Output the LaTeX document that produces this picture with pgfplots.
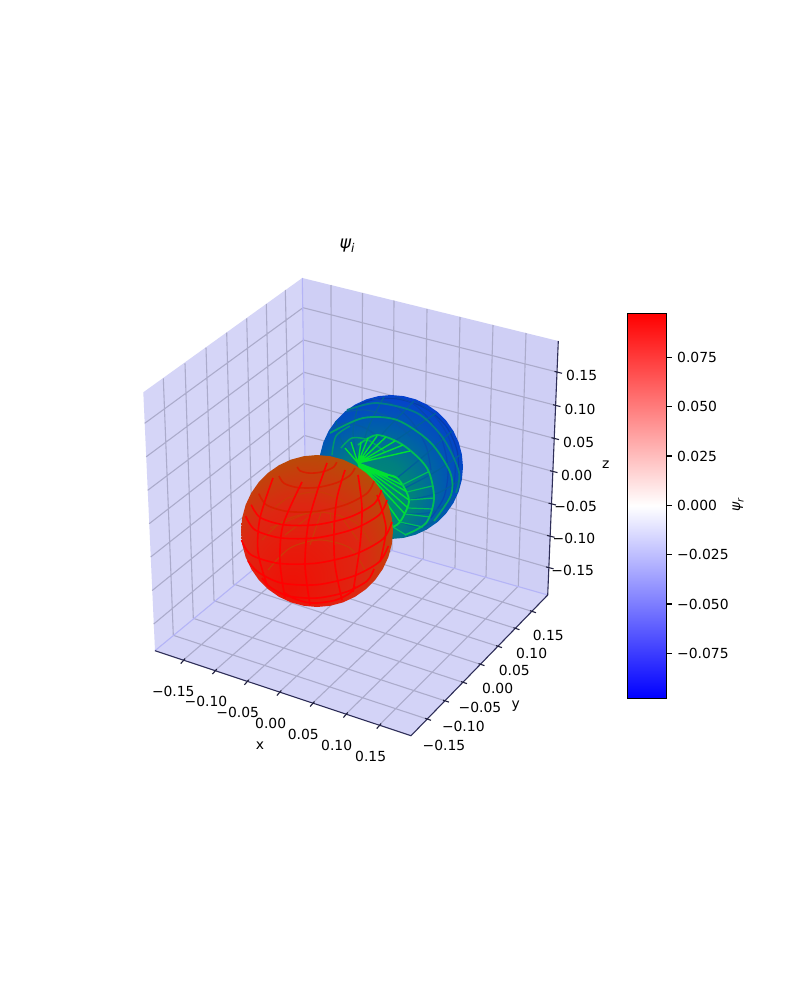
\documentclass[border=0pt]{standalone}
\usepackage{fontspec}
\setmainfont{DejaVu Sans}
\usepackage{pgfplots}
\pgfplotsset{compat=1.18}
\definecolor{paneL}{HTML}{D5D5F7}
\definecolor{paneB}{HTML}{CFCFF5}
\definecolor{paneF}{HTML}{D3D3F7}
\definecolor{gridc}{HTML}{ABABCB}
\definecolor{edgeb}{HTML}{B4B4F6}
\definecolor{spine}{HTML}{2E2E58}
\definecolor{wr}{HTML}{FF0000}
\definecolor{wrd}{HTML}{D82000}
\definecolor{wrb}{HTML}{CC3A08}
\pgfdeclareradialshading{ballred}{\pgfpoint{-8.9bp}{-19.4bp}}{rgb(0bp)=(0.94,0.06,0.02); rgb(20bp)=(0.87,0.15,0.07); rgb(30bp)=(0.75,0.27,0.04); rgb(40bp)=(0.60,0.40,0); rgb(50bp)=(0.52,0.47,0)}
\pgfdeclareradialshading{ballblue}{\pgfpoint{-9bp}{-15bp}}{rgb(0bp)=(0,0.60,0.38); rgb(14bp)=(0,0.50,0.50); rgb(23bp)=(0,0.36,0.68); rgb(32bp)=(0.02,0.24,0.82); rgb(50bp)=(0.02,0.20,0.85)}
\begin{document}
\begin{tikzpicture}[every node/.style={font=\fontsize{13.89}{16}\selectfont,inner sep=0pt,text=black}]
\begin{axis}[axis lines=none,scale only axis,width=800pt,height=1000pt,xmin=0,xmax=800,ymin=0,ymax=1000,y dir=reverse,clip=false,unbounded coords=jump,no markers]
% page
\addplot[draw=none,fill=white] coordinates {(0,0)(800,0)(800,1000)(0,1000)} --cycle;
% panes
\addplot[draw=none,fill=paneL] coordinates {(143.3,392.3)(302.3,278)(306,526)(155,650.7)} --cycle;
\addplot[draw=none,fill=paneB] coordinates {(302.3,278)(558.3,341)(547.7,595)(306,526)} --cycle;
\addplot[draw=none,fill=paneF] coordinates {(155,650.7)(306,526)(547.7,595)(411,735.7)} --cycle;
% grid
\addplot[gridc,line width=1.1pt] coordinates {
(183.3,660.1)(331.5,533)(0,nan)(215,670.6)(361.5,542)(0,nan)(247,681.3)(392,550)(0,nan)(279.5,692)(423.3,558.3)(0,nan)(312.7,703)(455,567.3)(0,nan)(346,714)(486,576.7)(0,nan)(379.3,725.1)(518.3,586)(0,nan)
(173.3,635.3)(427,719)(0,nan)(193.3,618.3)(445,700.8)(0,nan)(214,600.7)(463,682.3)(0,nan)(233.3,584)(480.5,664.3)(0,nan)(253,567.5)(498,646.3)(0,nan)(272,551)(515.5,628.4)(0,nan)(291,535)(532,611.4)(0,nan)
(163.3,378.3)(173.3,635.3)(0,nan)(185,363.3)(193.3,618.3)(0,nan)(206,347.7)(214,600.7)(0,nan)(226.7,332.7)(233.3,584)(0,nan)(246.7,318.3)(253,567.5)(0,nan)(266.3,304)(272,551)(0,nan)(285.3,290)(291,535)(0,nan)
(303,307.7)(144.7,423.3)(0,nan)(303.5,340)(146.2,456.8)(0,nan)(304,372.3)(147.7,490.3)(0,nan)(304,403.5)(149.2,523.7)(0,nan)(304.5,435.5)(150.7,557)(0,nan)(305,467)(152.2,590.5)(0,nan)(305.5,497.5)(153.7,624)(0,nan)
(331,285)(331.5,533)(0,nan)(362.5,293)(361.5,542)(0,nan)(394,300.5)(392,550)(0,nan)(427,309)(423.3,558.3)(0,nan)(460,317)(455,567.3)(0,nan)(493,325)(486,576.7)(0,nan)(526,333)(518.3,586)(0,nan)
(303,307.7)(557,372)(0,nan)(303.5,340)(555.5,405.3)(0,nan)(304,372.3)(554,438.3)(0,nan)(304,403.5)(552.5,471.3)(0,nan)(304.5,435.5)(551,503.7)(0,nan)(305,467)(549.5,536)(0,nan)(305.5,497.5)(548.5,567.5)
};
% inner pane edges
\addplot[edgeb,line width=1.1pt] coordinates {(302.3,278)(306,526)(0,nan)(306,526)(155,650.7)(0,nan)(306,526)(547.7,595)};
% front spines
\addplot[spine,line width=1.1pt] coordinates {(155,650.7)(411,735.7)(547.7,595)(558.3,341)};
% ticks
\addplot[spine!70!black,line width=1.1pt] coordinates {
(185.1,658.6)(180.7,663.6)(0,nan)(216.8,669.1)(212.4,674.1)(0,nan)(248.8,679.8)(244.4,684.8)(0,nan)(281.3,690.5)(276.9,695.5)(0,nan)(314.5,701.5)(310.1,706.5)(0,nan)(347.8,712.5)(343.4,717.5)(0,nan)(381.1,723.6)(376.7,728.6)(0,nan)
(425,718.3)(431,720.3)(0,nan)(443,700.1)(449,702.1)(0,nan)(461,681.6)(467,683.6)(0,nan)(478.5,663.6)(484.5,665.6)(0,nan)(496,645.6)(502,647.6)(0,nan)(513.5,627.7)(519.5,629.7)(0,nan)(530,610.7)(536,612.7)(0,nan)
(554.5,371.4)(562,373.3)(0,nan)(553,404.7)(560.5,406.6)(0,nan)(551.5,437.7)(559,439.6)(0,nan)(550,470.7)(557.5,472.6)(0,nan)(548.5,503.1)(556,505)(0,nan)(547,535.4)(554.5,537.3)(0,nan)(546,566.9)(553.5,568.8)
};
% blue sphere
\addplot[draw=none,shade,shading=ballblue] coordinates {(463,467)(461.9,454.5)(458.7,442.4)(453.4,431)(446.2,420.7)(437.3,411.8)(427,404.6)(415.6,399.3)(403.5,396.1)(391,395)(378.5,396.1)(366.4,399.3)(355,404.6)(344.7,411.8)(335.8,420.7)(328.6,431)(323.3,442.4)(320.1,454.5)(319,467)(320.1,479.5)(323.3,491.6)(328.6,503)(335.8,513.3)(344.7,522.2)(355,529.4)(366.4,534.7)(378.5,537.9)(391,539)(403.5,537.9)(415.6,534.7)(427,529.4)(437.3,522.2)(446.2,513.3)(453.4,503)(458.7,491.6)(461.9,479.5)} --cycle;
% blue sphere: grid wires near the rim
\addplot[smooth,color={rgb,255:red,6;green,60;blue,170},line width=1.2pt] coordinates {(352,408)(372,400)(398,399)(425,408)(446,426)(457,450)(459,475)};
\addplot[smooth,color={rgb,255:red,6;green,70;blue,175},line width=1.2pt] coordinates {(395,397)(412,403)(428,418)(442,440)(448,470)(444,497)(431,518)};
\addplot[smooth,color={rgb,255:red,6;green,70;blue,175},line width=1.2pt] coordinates {(415,401)(433,414)(448,436)(455,462)(453,490)(442,509)};
\addplot[smooth,color={rgb,255:red,6;green,80;blue,170},line width=1.2pt] coordinates {(372,399)(392,404)(412,422)(426,446)(431,470)};
\addplot[smooth,color={rgb,255:red,6;green,90;blue,165},line width=1.2pt] coordinates {(345,412)(366,410)(390,418)(410,436)};
\addplot[smooth,color={rgb,255:red,6;green,90;blue,160},line width=1.2pt] coordinates {(330,430)(345,423)(365,428)(382,440)};
\addplot[smooth,color={rgb,255:red,0;green,100;blue,150},line width=1.2pt] coordinates {(358,463)(341,440)(336,421)};
\addplot[smooth,color={rgb,255:red,0;green,100;blue,150},line width=1.2pt] coordinates {(358,463)(353,432)(358,406)};
\addplot[smooth,color={rgb,255:red,0;green,100;blue,150},line width=1.2pt] coordinates {(358,463)(368,428)(384,397)};
\addplot[smooth,color={rgb,255:red,0;green,95;blue,155},line width=1.2pt] coordinates {(358,463)(384,432)(414,401)};
\addplot[smooth,color={rgb,255:red,0;green,95;blue,155},line width=1.2pt] coordinates {(358,463)(396,440)(436,413)};
\addplot[smooth,color={rgb,255:red,0;green,95;blue,155},line width=1.2pt] coordinates {(397,478)(425,455)(452,431)};
\addplot[smooth,color={rgb,255:red,0;green,95;blue,155},line width=1.2pt] coordinates {(405,488)(435,472)(460,455)};
\addplot[smooth,color={rgb,255:red,0;green,95;blue,155},line width=1.2pt] coordinates {(409,500)(438,493)(460,480)};
\addplot[smooth,color={rgb,255:red,0;green,95;blue,155},line width=1.2pt] coordinates {(405,514)(432,512)(455,497)};
\addplot[smooth,color={rgb,255:red,0;green,95;blue,155},line width=1.2pt] coordinates {(400,522)(423,527)(444,513)};
% rings
\addplot[smooth,color={rgb,255:red,0;green,125;blue,135},line width=1.8pt] coordinates {(347,410)(377,403)(417,413)(443,438)(459,472)(456,493)};
\addplot[smooth,color={rgb,255:red,0;green,160;blue,105},line width=1.8pt] coordinates {(330,433)(363,418)(397,420)(430,442)(450,472)(451,495)(434,521)};
\addplot[smooth,color={rgb,255:red,0;green,190;blue,85},line width=1.8pt] coordinates {(358,445)(377,435)(403,445)(427,468)(434,498)(426,523)(405,535)};
\addplot[smooth,color={rgb,255:red,0;green,215;blue,65},line width=1.8pt] coordinates {(363,465)(377,473)(397,478)(409,500)(400,522)(390,528)};
\addplot[smooth,color={rgb,255:red,0;green,165;blue,100},line width=1.5pt] coordinates {(341,448)(352,438)(368,440)(385,452)};
\addplot[smooth,color={rgb,255:red,0;green,150;blue,110},line width=1.5pt] coordinates {(332,455)(336,436)(350,426)};
% spokes
\addplot[color={rgb,255:red,0;green,225;blue,50},line width=1.4pt] coordinates {
(358,463)(380,474)(0,nan)(358,463)(388,476)(0,nan)(358,463)(397,478)(0,nan)(358,463)(402,485)(0,nan)(358,463)(407,492)(0,nan)(358,463)(409,500)(0,nan)(358,463)(408,508)(0,nan)(358,463)(405,514)(0,nan)(358,463)(400,522)(0,nan)(358,463)(393,527)(0,nan)(358,463)(386,530)(0,nan)(358,463)(378,530)(0,nan)
(358,463)(361,442)(0,nan)(358,463)(368,438)(0,nan)(358,463)(377,436)(0,nan)(358,463)(386,437)(0,nan)(358,463)(395,441)(0,nan)(358,463)(403,445)(0,nan)(358,463)(410,451)(0,nan)(358,463)(351,442)(0,nan)(358,463)(345,448)
};
\addplot[color={rgb,255:red,0;green,190;blue,90},line width=1.2pt] coordinates {
(409,500)(434,498)(0,nan)(405,514)(430,517)(0,nan)(402,485)(428,472)(0,nan)(400,522)(423,527)(0,nan)(393,527)(406,535)(0,nan)(407,492)(432,486)(0,nan)(408,508)(433,509)
};
% red sphere
\addplot[draw=none,shade,shading=ballred] coordinates {(393,531)(391.8,517.8)(388.4,505)(382.8,493)(375.2,482.1)(365.9,472.8)(355,465.2)(343,459.6)(330.2,456.2)(317,455)(303.8,456.2)(291,459.6)(279,465.2)(268.1,472.8)(258.8,482.1)(251.2,493)(245.6,505)(242.2,517.8)(241,531)(242.2,544.2)(245.6,557)(251.2,569)(258.8,579.9)(268.1,589.2)(279,596.8)(291,602.4)(303.8,605.8)(317,607)(330.2,605.8)(343,602.4)(355,596.8)(365.9,589.2)(375.2,579.9)(382.8,569)(388.4,557)(391.8,544.2)} --cycle;
% red sphere: rear wires seen through
\addplot[smooth,wrb,line width=1.2pt] coordinates {(272,510)(290,497)(320,492)(350,505)(362,525)};
\addplot[smooth,wrb,line width=1.2pt] coordinates {(262,540)(285,520)(320,512)(355,522)(372,545)};
\addplot[smooth,wrb,line width=1.2pt] coordinates {(268,570)(290,548)(320,540)(350,548)(365,570)};
\addplot[wrb,line width=1.1pt] coordinates {(318,510)(285,535)(0,nan)(322,510)(310,545)(0,nan)(330,512)(335,545)(0,nan)(340,515)(358,540)(0,nan)(310,512)(270,528)};
% red sphere: parallels
\addplot[smooth,wrd,line width=1.6pt] coordinates {(297.3,466.9)(299.9,470.7)(307.2,472.9)(317,472.8)(326.9,470.5)(334.1,466.6)(336.7,462.1)};
\addplot[smooth,wrd,line width=1.6pt] coordinates {(279,476)(284.1,483.4)(298,487.6)(317,487.5)(336,483)(349.9,475.5)(355,468)};
\addplot[smooth,wrd,line width=1.6pt] coordinates {(258.8,493.7)(266.6,505)(287.9,511.5)(317,511.3)(346.1,504.5)(367.4,493)(374,481)};
\addplot[smooth,wr,line width=1.6pt] coordinates {(251.2,504.7)(260.2,517.5)(284.1,524.8)(317,524.6)(349.9,517)(374,503.9)(381.5,490)};
\addplot[smooth,wr,line width=1.6pt] coordinates {(245.6,516.1)(255.2,530)(281.3,538)(317,537.7)(352.7,529.4)(378.8,515.2)(387,500)};
\addplot[smooth,wr,line width=1.6pt] coordinates {(241.5,540.1)(251.2,554.9)(279,563.4)(317,563.1)(355,554.2)(382.8,539.1)(392,522)};
\addplot[smooth,wr,line width=1.6pt] coordinates {(248,561)(258,572)(281.3,583)(317,584.7)(352.7,576.4)(378.8,562.2)(388.4,545.9)};
\addplot[smooth,wr,line width=1.6pt] coordinates {(262,578)(270,587)(288,596)(317,598)(346,592)(367,581)(374,569)};
\addplot[smooth,wr,line width=1.6pt] coordinates {(285,593)(293,598)(305,602)(317,603)(336,600)(350,593)(355,586)};
% red sphere: verticals
\addplot[smooth,wr,line width=1.6pt] coordinates {(302,482)(283,525)(280,562)(285,598)};
\addplot[smooth,wr,line width=1.6pt] coordinates {(273,478)(260,518)(258,552)(267,585)};
\addplot[smooth,wr,line width=1.6pt] coordinates {(327,463)(317,492)(308,525)(305,565)(310,605)};
\addplot[smooth,wr,line width=1.6pt] coordinates {(345,470)(337,498)(334,530)(335,565)(342,600)};
\addplot[smooth,wr,line width=1.6pt] coordinates {(358,475)(362,508)(360,545)(353,592)};
\addplot[smooth,wr,line width=1.6pt] coordinates {(377,495)(386,528)(380,562)};
% colorbar
\addplot[draw=none,shade,top color=red,bottom color=blue,middle color=white] coordinates {(627.3,313.3)(666.7,313.3)(666.7,698.3)(627.3,698.3)} --cycle;
\addplot[black,line width=1.1pt] coordinates {(627.3,313.3)(666.7,313.3)(666.7,698.3)(627.3,698.3)(627.3,313.3)};
\addplot[black,line width=1.1pt] coordinates {(666.7,357.3)(671.5,357.3)(0,nan)(666.7,406.7)(671.5,406.7)(0,nan)(666.7,456)(671.5,456)(0,nan)(666.7,505.3)(671.5,505.3)(0,nan)(666.7,554.7)(671.5,554.7)(0,nan)(666.7,604)(671.5,604)(0,nan)(666.7,653.5)(671.5,653.5)};
% texts
\node at (axis cs:347,246) {\fontsize{17.5}{18}\selectfont\itshape ψ\raisebox{-0.25em}{\fontsize{12}{12}\selectfont i}};
\node[rotate=90] at (axis cs:738,505) {\itshape ψ\raisebox{-0.25em}{\fontsize{9.7}{10}\selectfont r}};
\node at (axis cs:173.3,691.7) {−0.15};
\node at (axis cs:206,701.7) {−0.10};
\node at (axis cs:237.7,712.3) {−0.05};
\node at (axis cs:270.7,723.3) {0.00};
\node at (axis cs:303.3,734.3) {0.05};
\node at (axis cs:336.7,745.3) {0.10};
\node at (axis cs:370.7,756) {0.15};
\node at (axis cs:260,745.7) {x};
\node at (axis cs:548.3,635.7) {0.15};
\node at (axis cs:531.7,653.3) {0.10};
\node at (axis cs:514.3,670) {0.05};
\node at (axis cs:497.7,688.3) {0.00};
\node at (axis cs:480,707) {−0.05};
\node at (axis cs:463.3,726) {−0.10};
\node at (axis cs:444,745) {−0.15};
\node at (axis cs:515.7,706) {y};
\node at (axis cs:581.7,375) {0.15};
\node at (axis cs:580,409) {0.10};
\node at (axis cs:578.7,442) {0.05};
\node at (axis cs:576.7,475) {0.00};
\node at (axis cs:575.7,506.7) {−0.05};
\node at (axis cs:574,538.3) {−0.10};
\node at (axis cs:572.7,570) {−0.15};
\node at (axis cs:605.7,465) {z};
\node[anchor=west] at (axis cs:677,357.3) {0.075};
\node[anchor=west] at (axis cs:677,406.7) {0.050};
\node[anchor=west] at (axis cs:677,456) {0.025};
\node[anchor=west] at (axis cs:677,505.3) {0.000};
\node[anchor=west] at (axis cs:677,554.7) {−0.025};
\node[anchor=west] at (axis cs:677,604) {−0.050};
\node[anchor=west] at (axis cs:677,653.5) {−0.075};
\end{axis}
\end{tikzpicture}
\end{document}
